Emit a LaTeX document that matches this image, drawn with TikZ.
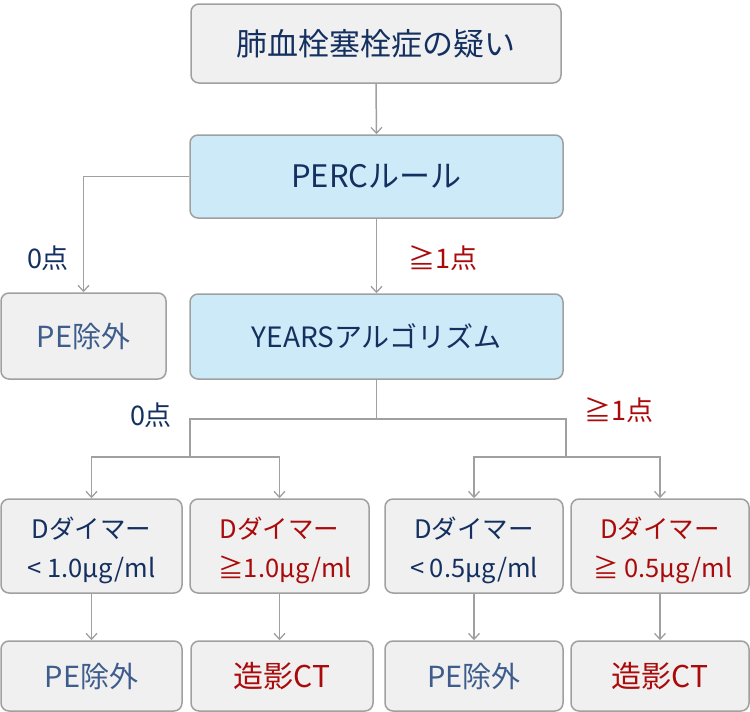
\documentclass[tikz,border=0pt]{standalone}
\usepackage{fontspec}
\setmainfont{Noto Sans CJK JP}
\usetikzlibrary{arrows.meta}
\definecolor{navy}{RGB}{20,48,96}
\definecolor{peblue}{RGB}{62,92,140}
\definecolor{redtxt}{RGB}{170,10,10}
\definecolor{boxgray}{RGB}{240,240,240}
\definecolor{boxblue}{RGB}{204,234,247}
\definecolor{edgegray}{RGB}{160,160,160}
\newcommand{\dstrut}{\rule{0pt}{30.5pt}}
\tikzset{
  box/.style={draw=edgegray, line width=1.5pt, rounded corners=8pt, fill=boxgray, align=center, inner sep=0pt},
  bluebox/.style={box, fill=boxblue},
  conn/.style={draw=edgegray, line width=1.5pt},
  arr/.style={conn, -{Straight Barb[length=6pt,width=11pt,line width=1.3pt]}},
  lab/.style={font=\fontsize{27}{30}\selectfont, inner sep=0pt},
  dtext/.style={font=\fontsize{25.5}{39}\selectfont},
}
\begin{document}
\begin{tikzpicture}[x=1pt,y=-1pt]
\useasboundingbox (0,0) rectangle (750,712);
% top
\node[box, minimum width=370, minimum height=79, text=navy, font=\fontsize{31}{34}\selectfont] (top) at (376,43.5) {肺血栓塞栓症の疑い};
\node[bluebox, minimum width=373, minimum height=83, text=navy, font=\fontsize{31}{34}\selectfont] (perc) at (376.5,176.5) {PERCルール};
\node[box, minimum width=165, minimum height=86, text=peblue, font=\fontsize{29}{32}\selectfont] (pe1) at (83.5,336) {PE除外};
\node[bluebox, minimum width=373, minimum height=85, text=navy, font=\fontsize{28}{32}\selectfont] (years) at (376.5,336.5) {YEARSアルゴリズム};
% D-dimer boxes
\node[box, dtext, minimum width=181, minimum height=94, text=navy] (d1) at (91.5,546) {\dstrut Dダイマー\\< 1.0μg/ml};
\node[box, dtext, minimum width=179, minimum height=94, text=redtxt] (d2) at (279.5,546) {\dstrut Dダイマー\\\ \ ≧1.0μg/ml};
\node[box, dtext, minimum width=178, minimum height=94, text=navy] (d3) at (474,546) {\dstrut Dダイマー\\< 0.5μg/ml};
\node[box, dtext, minimum width=178, minimum height=94, text=redtxt] (d4) at (660,546) {\dstrut Dダイマー\\\ ≧ 0.5μg/ml};
% bottom boxes
\node[box, minimum width=181, minimum height=70, text=peblue, font=\fontsize{29}{32}\selectfont] (b1) at (91.5,676) {PE除外};
\node[box, minimum width=182, minimum height=70, text=redtxt, font=\fontsize{30}{32}\selectfont] (b2) at (282,676) {造影CT};
\node[box, minimum width=178, minimum height=70, text=peblue, font=\fontsize{29}{32}\selectfont] (b3) at (474,676) {PE除外};
\node[box, minimum width=178, minimum height=70, text=redtxt, font=\fontsize{30}{32}\selectfont] (b4) at (660,676) {造影CT};
% labels
\node[lab, text=navy] (l0a) at (48,258) {0点};
\node[lab, text=redtxt] (l1a) at (443,258) {≧1点};
\node[lab, text=navy] (l0b) at (151,415) {0点};
\node[lab, text=redtxt] (l1b) at (619,410) {≧1点};
% connectors
\coordinate (jm) at (376.5,419);
\coordinate (jl) at (190,457);
\coordinate (jr) at (566,457);
\draw[arr] (top.south) -- (perc.north);
\draw[arr] (perc.west) -| (pe1.north);
\draw[arr] (perc.south) -- (years.north);
\draw[conn] (years.south) -- (jm);
\draw[conn] (jm) -| (jl);
\draw[conn] (jm) -| (jr);
\draw[arr] (jl) -| (d1.north);
\draw[arr] (jl) -| (d2.north);
\draw[arr] (jr) -| (d3.north);
\draw[arr] (jr) -| (d4.north);
\draw[arr] (d1.south) -- (b1.north);
\draw[arr] (d2.south) -- (d2.south |- b2.north);
\draw[arr] (d3.south) -- (b3.north);
\draw[arr] (d4.south) -- (d4.south |- b4.north);
\end{tikzpicture}
\end{document}
